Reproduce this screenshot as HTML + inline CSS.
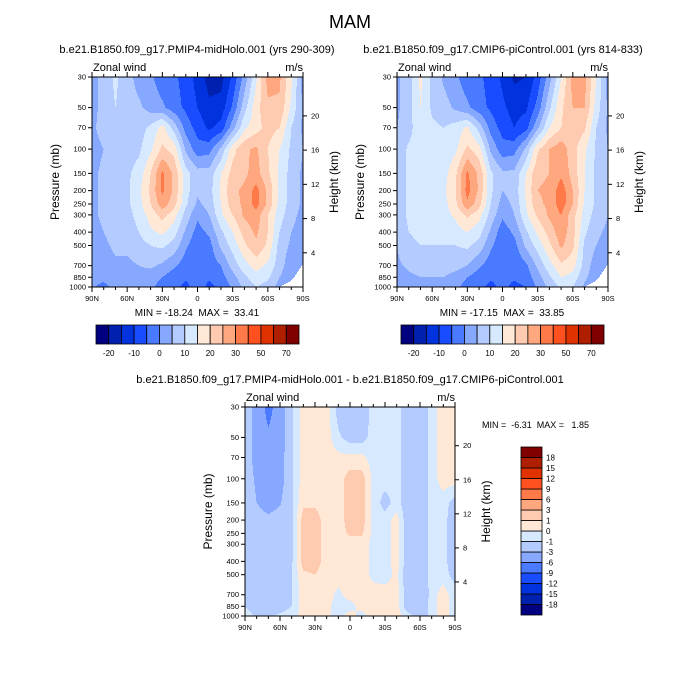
<!DOCTYPE html>
<html><head><meta charset="utf-8">
<style>
body{margin:0;background:#fff;}
#wrap{position:relative;width:700px;height:700px;overflow:hidden;background:#fff;font-family:"Liberation Sans",sans-serif;}
canvas{position:absolute;image-rendering:pixelated;}
svg{position:absolute;left:0;top:0;}
text{white-space:pre;}
</style></head>
<body>
<div id="wrap">
<canvas id="c1"></canvas>
<canvas id="c2"></canvas>
<canvas id="c3"></canvas>
<svg id="svg" width="700" height="700"></svg>
</div>
<script>
const lats=[90,80,70,60,50,40,30,20,10,0,-10,-20,-30,-40,-50,-60,-70,-80,-90];
const plevs=[30,50,70,100,150,200,250,300,400,500,700,850,1000];
const pTicks=[30,50,70,100,150,200,250,300,400,500,700,850,1000];
const zTicks=[4,8,12,16,20];
const latTickVals=[90,60,30,0,-30,-60,-90];
const latTickLabels=["90N","60N","30N","0","30S","60S","90S"];
const surfaceP=[1000,1000,1000,1000,1000,1000,1000,1000,1000,1000,1000,1000,1000,1000,1000,1000,1000,900,680];
const pmip4=[
[3,7,11,7,3,1,-3,-4,-7,-12,-17,-17,-9,2,14,27,26,16,3],
[3,7,10,7,6,3,1,-3,-6,-10,-14,-13,-4,8,18,24,24,14,4],
[4,7,8,8,8,11,17,8,-2,-7,-11,-8,3,14,18,22,20,10,4],
[3,5,7,8,9,14,21,18,4,-3,-2,6,18,24,26,20,15,9,5],
[4,6,8,9,12,20,31,24,12,7,7,15,22,24,27,21,14,8,4],
[4,6,8,9,14,21,31,24,12,6,8,16,24,26,32,24,14,8,4],
[4,6,8,9,13,20,28,22,11,4,7,15,23,26,32,24,13,8,4],
[4,6,8,8,12,17,22,17,8,1,5,14,20,26,28,20,12,7,3],
[3,5,7,7,10,14,16,12,4,-2,1,9,15,22,26,20,10,5,2],
[3,4,6,6,8,10,11,8,1,-4,-2,6,12,19,24,19,8,4,2],
[2,3,4,4,5,6,4,1,-3,-4,-3,0,7,13,17,14,7,2,1],
[1,2,3,3,3,2,0,-3,-4.5,-4,-4.5,-2,3,9,13,11,5,2,1],
[1,-2,2,2,2,1,-2,-4,-6,-3,-6,-4,1,6,10,8,3,1,0]];
const picontrol=[
[4,8,16,9,4,1,-3,-4,-7,-11,-16,-15,-8,3,15,27,27,15,3],
[4,8,15,9,7,4,1,-3,-6,-9,-12,-11,-3,9,19,25,25,13,4],
[5,8,14,11,10,12,16,8,-2,-7,-10,-7,4,15,20,23,21,10,4],
[6,11,12,12,11,14,21,17,4,-3,-2,6,19,25,28,22,16,9,5],
[7,11,13,13,13,19,31,24,11,6,6,15,24,25,29,23,15,9,6],
[7,11,13,13,14,20,32,24,11,5,7,16,25,26,33,25,15,9,6],
[7,11,13,12,13,19,29,22,10,3,6,15,24,26,33,25,14,9,6],
[7,11,12,12,13,16,21,17,8,1,5,14,21,26,30,22,13,8,5],
[6,10,11,11,11,13,15,12,4,-3,1,9,16,22,28,22,11,6,4],
[5,9,10,10,10,10,11,8,1,-4,-2,6,12,19,26,21,9,5,3],
[4,6,7,7,7,7,5,1,-3,-4,-4,-1,6,13,19,17,8,2,1],
[2,4,5,5,5,3,0,-3,-4.5,-4,-4.5,-3,3,9,15,13,6,2,1],
[2,1,3,3,3,1,-2,-4,-6,-4,-6,-5,1,6,11,10,4,1,0]];
const diff=[
[-1.5,-4,-7,-4.5,-1.2,0.5,0.5,0.5,-1.5,-2,-2,-0.5,-0.5,-0.5,-2,-2,-0.5,0.5,0.5],
[-1.5,-4,-5.5,-4.5,-1.2,0.5,0.5,0.5,-0.8,-1.5,-1.5,-0.5,-0.5,-0.5,-2,-2,-0.5,0.5,0.5],
[-1.5,-4,-4.5,-4,-1.2,0.5,0.5,0.5,0.3,0.3,0.3,-0.5,-0.5,-0.5,-2,-2,-0.5,0.5,0.5],
[-1.5,-3.5,-4.5,-4,-1.2,0.5,0.5,0.5,0.5,1.5,1.5,-0.3,-0.5,-0.5,-2,-2,-0.5,0.5,0.5],
[-1,-3,-4,-3.2,-1.2,0.8,0.8,0.5,0.5,1.5,1.5,-0.3,-1.5,-0.5,-2,-2,-0.5,-0.5,-1.5],
[-1,-2,-2.5,-2,-1.2,1.5,1.5,0.5,0.5,1.5,1.5,-0.3,-0.5,0.5,-2,-2,-0.5,-0.5,-2],
[-1,-2,-2,-2,-1.2,1.5,1.5,0.5,0.5,1.2,1.2,-0.3,-0.5,0.5,-2,-2,-0.5,-0.5,-2],
[-1,-2,-2,-2,-1.2,1.5,1.5,0.5,0.5,0.5,0.5,-0.3,-0.5,0.5,-2,-2,-0.5,-0.5,-2],
[-1,-2,-2,-2,-1.2,1.5,1.5,0.5,0.5,0.5,0.5,-0.3,-0.5,0.5,-2,-2,-0.5,-0.5,-2],
[-1,-2,-2,-2,-1,0.8,1,0.5,0.5,0.5,0.5,-0.3,-0.5,0.3,-2,-2,-0.5,-0.5,-1.5],
[-1,-1.5,-2,-1.5,-1,0.5,0.5,0.5,-0.3,0.5,0.5,0.5,0.5,0.5,-2,-2.5,-0.5,0.5,-0.5],
[-1,-1.5,-1.5,-1.5,-1,0.5,0.5,0.3,-0.5,-0.5,0.5,0.5,0.5,0.5,-2,-2,-0.5,0.5,-0.5],
[-0.5,-1.2,-1.2,-0.8,-0.5,0.5,0.5,0.3,-0.5,0.5,-0.5,0.5,0.5,0.5,-0.5,-2,-0.5,0.5,-0.5]];
const levsFull=[-20,-15,-10,-5,0,5,10,15,20,25,30,40,50,60,70];
const levsFullLabels=["-20","-10","0","10","20","30","50","70"];
const levsDiff=[-18,-15,-12,-9,-6,-3,-1,0,1,3,6,9,12,15,18];
const levsDiffLabels=["-18","-15","-12","-9","-6","-3","-1","0","1","3","6","9","12","15","18"];
const colors=["#000080","#0020b0","#0033dd","#1a4cff","#4a7aff","#87a8ff","#b4cbff","#d7e9ff","#ffe9d6","#ffcbb0","#ffa880","#ff7a48","#ff5020","#e03200","#b01e00","#800000"];

const NS="http://www.w3.org/2000/svg";
const svg=document.getElementById('svg');
function el(tag,attrs,parent){const e=document.createElementNS(NS,tag);for(const k in attrs)e.setAttribute(k,attrs[k]);(parent||svg).appendChild(e);return e;}
function txt(x,y,s,size,anchor,parent,rot){const t=el('text',{x:x,y:y,'font-size':size,'text-anchor':anchor||'middle',fill:'#000'},parent);if(rot)t.setAttribute('transform','rotate(-90 '+x+' '+y+')');t.textContent=s;return t;}
function hex(c){return [parseInt(c.substr(1,2),16),parseInt(c.substr(3,2),16),parseInt(c.substr(5,2),16)];}
const rgb=colors.map(hex);
function interp(grid,lat,p){
  let f=(90-lat)/10;let i=Math.min(17,Math.max(0,Math.floor(f)));let u=f-i;
  let j=0;while(j<plevs.length-2&&p>plevs[j+1])j++;
  let v=(Math.log(p)-Math.log(plevs[j]))/(Math.log(plevs[j+1])-Math.log(plevs[j]));v=Math.max(0,Math.min(1,v));
  const a=grid[j][i],b=grid[j][i+1],c=grid[j+1][i],d=grid[j+1][i+1];
  return (a*(1-u)+b*u)*(1-v)+(c*(1-u)+d*u)*v;
}
function surf(lat){let f=(90-lat)/10;let i=Math.min(17,Math.floor(f));let u=f-i;return surfaceP[i]*(1-u)+surfaceP[i+1]*u;}
function colorIdx(val,levs){let k=0;while(k<levs.length&&val>=levs[k])k++;return k;}
const L30=Math.log(30),LR=Math.log(1000/30);
function drawPanel(id,geo,grid,levs,mask){
  const c=document.getElementById(id);c.width=geo.w;c.height=geo.h;c.style.left=geo.x+'px';c.style.top=geo.y+'px';
  const ctx=c.getContext('2d');const img=ctx.createImageData(geo.w,geo.h);
  for(let y=0;y<geo.h;y++){const p=Math.exp(L30+(y+0.5)/geo.h*LR);
    for(let x=0;x<geo.w;x++){const lat=90-(x+0.5)/geo.w*180;const o=(y*geo.w+x)*4;
      let col=[255,255,255];
      if(!(mask&&p>surf(lat))){col=rgb[colorIdx(interp(grid,lat,p),levs)];}
      img.data[o]=col[0];img.data[o+1]=col[1];img.data[o+2]=col[2];img.data[o+3]=255;}}
  ctx.putImageData(img,0,0);
}
function axes(geo,name){
  const g=el('g',{});
  
  
  const X=lat=>geo.x+(90-lat)/180*geo.w;
  const Y=p=>geo.y+(Math.log(p)-L30)/LR*geo.h;
  el('rect',{x:geo.x,y:geo.y,width:geo.w,height:geo.h,fill:'none',stroke:'#000','stroke-width':1},g);
  pTicks.forEach(p=>{const y=Y(p);el('line',{x1:geo.x-4,x2:geo.x,y1:y,y2:y,stroke:'#000'},g);
    const t=txt(geo.x-6,y+2.5,String(p),7.5,'end',g);});
  zTicks.forEach(z=>{const p=1000*Math.exp(-z/7);const y=Y(p);el('line',{x1:geo.x+geo.w,x2:geo.x+geo.w+4,y1:y,y2:y,stroke:'#000'},g);
    const t=txt(geo.x+geo.w+8,y+2.5,String(z),7.5,'start',g);});
  for(let lat=90;lat>=-90;lat-=10){const x=X(lat);const major=lat%30===0;
    el('line',{x1:x,x2:x,y1:geo.y+geo.h,y2:geo.y+geo.h+(major?5:3),stroke:'#000'},g);
    el('line',{x1:x,x2:x,y1:geo.y,y2:geo.y-(major?5:3),stroke:'#000'},g);}
  latTickVals.forEach((lat,i)=>{const t=txt(X(lat),geo.y+geo.h+14,latTickLabels[i],7.5,'middle',g);});
  const a=txt(geo.x-33,geo.y+geo.h/2,'Pressure (mb)',12,'middle',g,true);
  const b=txt(geo.x+geo.w+35,geo.y+geo.h/2,'Height (km)',12,'middle',g,true);
  const zw=txt(geo.x+1,geo.y-6,'Zonal wind',11,'start',g);
  const un=txt(geo.x+geo.w,geo.y-6,'m/s',11,'end',g);
}
function hbar(x,y,w,h,name){
  const g=el('g',{});
  const bw=w/colors.length;
  colors.forEach((c,i)=>{const r=el('rect',{x:x+i*bw,y:y,width:bw,height:h,fill:c,stroke:'#000','stroke-width':0.8},g);});
  levsFullLabels.forEach((s,k)=>{const t=txt(x+(2*k+1)*bw,y+h+12,s,8,'middle',g);});
}
const g1={x:92,y:77,w:211,h:210},g2={x:397,y:77,w:211,h:210},g3={x:245,y:407,w:210,h:209};
drawPanel('c1',g1,pmip4,levsFull,true);
drawPanel('c2',g2,picontrol,levsFull,true);
drawPanel('c3',g3,diff,levsDiff,false);
axes(g1,'pmip4');axes(g2,'picontrol');axes(g3,'difference');
let t;
t=txt(350,28,'MAM',18,'middle');
t=txt(197,53,'b.e21.B1850.f09_g17.PMIP4-midHolo.001 (yrs 290-309)',11,'middle');
t=txt(503,53,'b.e21.B1850.f09_g17.CMIP6-piControl.001 (yrs 814-833)',11,'middle');
t=txt(350,383,'b.e21.B1850.f09_g17.PMIP4-midHolo.001 - b.e21.B1850.f09_g17.CMIP6-piControl.001',11,'middle');
t=txt(197,316,'MIN = -18.24  MAX =  33.41',10,'middle');
t=txt(502,316,'MIN = -17.15  MAX =  33.85',10,'middle');
t=txt(482,428,'MIN =  -6.31  MAX =   1.85',9,'start');
hbar(96,325,203,19,'pmip4-colorbar');
hbar(401,325,203,19,'picontrol-colorbar');
(function(){const g=el('g',{});
  const x=521,y=447,w=21,h=168,bh=h/colors.length;
  colors.forEach((c,i)=>{const r=el('rect',{x:x,y:y+h-(i+1)*bh,width:w,height:bh,fill:c,stroke:'#000','stroke-width':0.8},g);});
  levsDiffLabels.forEach((s,k)=>{const tt=txt(x+w+4,y+h-(k+1)*bh+3,s,8,'start',g);});
})();
</script>
</body></html>
